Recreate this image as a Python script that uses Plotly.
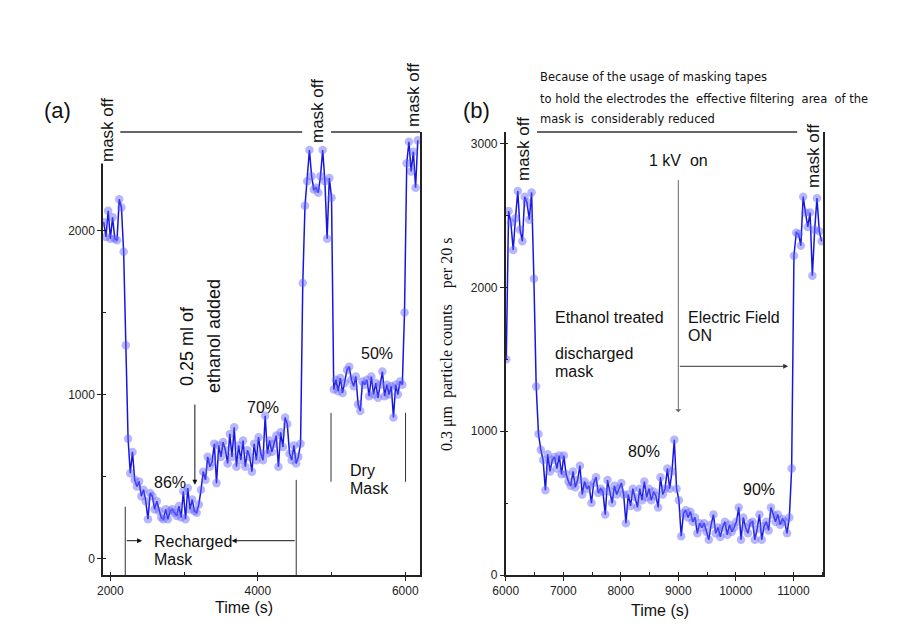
import plotly.graph_objects as go

W, H = 914, 624

# ---------------- data (panel a) ----------------
time_a_start, time_a_step = 1910, 30
counts_a = [
    # mask off (high)
    2050, 1960, 2120, 1950, 2080, 1950, 1940, 2190, 2140, 1870,
    # recharged mask / ethanol added
    1300, 730, 520, 650, 480, 440, 470, 380, 420, 350,
    240, 400, 380, 300, 350, 290, 250, 240, 300, 240,
    290, 300, 280, 260, 320, 250, 410, 240, 430, 300,
    360, 290, 280, 330, 420, 530, 480, 620, 560, 590,
    700, 460, 690, 620, 710, 660, 580, 760, 620, 800,
    560, 690, 600, 720, 560, 660, 620, 530, 700, 600,
    740, 640, 600, 870, 640, 720, 650, 700, 750, 560,
    770, 680, 860, 820, 640, 600, 690, 580, 620, 700,
    # mask off
    1680, 2150, 2300, 2490, 2330, 2250, 2260, 2230, 2330, 2490, 2300, 1950, 2320, 2200,
    # dry mask
    1030, 1090, 1020, 1100, 1010, 1070, 1150, 1170, 1090, 1050,
    1110, 940, 900, 1080, 1060, 1090, 990, 1110, 1000, 1070,
    980, 1060, 1140, 990, 1060, 1000, 1050, 860, 1060, 1000,
    1080, 1060,
    # mask off
    1500, 2410, 2540, 2360, 2480, 2260, 2550,
]

# ---------------- data (panel b) ----------------
time_b_start, time_b_step = 6010, 40
counts_b = [
    # mask off
    1500, 2530, 2450, 2260, 2480, 2670, 2400, 2320, 2630, 2590, 2470, 2660,
    2060, 1310,
    # ethanol treated, discharged mask / field on
    980, 870, 800, 590, 840, 720, 800, 820, 740, 830,
    700, 830, 700, 650, 620, 720, 610, 660, 760, 560,
    650, 600, 620, 500, 640, 680, 570, 600, 580, 420,
    660, 580, 500, 620, 560, 600, 640, 560, 360, 560,
    480, 600, 540, 470, 600, 520, 650, 540, 600, 520,
    580, 550, 470, 680, 560, 600, 740, 600, 720, 940,
    600, 520, 270, 430, 450, 400, 440, 370, 400, 290,
    360, 330, 360, 300, 245, 350, 420, 290, 330, 265,
    330, 370, 280, 350, 300, 330, 370, 470, 245, 400,
    330, 290, 360, 370, 245, 320, 420, 245, 340, 370,
    310, 470, 420, 370, 420, 350, 390, 370, 290, 400,
    740,
    # mask off
    2220, 2380, 2370, 2290, 2630, 2520, 2420, 2520, 2080, 2400, 2620, 2390, 2320,
]

assert len(counts_a) == 143, len(counts_a)
assert len(counts_b) == 138, len(counts_b)

time_a = [time_a_start + i * time_a_step for i in range(len(counts_a))]
time_b = [time_b_start + i * time_b_step for i in range(len(counts_b))]

x_range_a = [1900, 6200]
y_range_a = [-100, 2600]
x_range_b = [6000, 11520]
y_range_b = [0, 3080]

LINE_C = "#1616e0"
MARK_C = "rgba(95,95,255,0.45)"
SANS = "Liberation Sans, Arial, sans-serif"

fig = go.Figure()
for xs, ys, xa, ya in [(time_a, counts_a, "x", "y"), (time_b, counts_b, "x2", "y2")]:
    fig.add_trace(go.Scatter(
        x=xs, y=ys, xaxis=xa, yaxis=ya, mode="lines+markers",
        line=dict(color=LINE_C, width=1.5),
        marker=dict(color=MARK_C, size=8.5, line=dict(width=0)),
        showlegend=False, hoverinfo="skip",
    ))


def px(x):
    return x / W


def py(y):
    return 1 - y / H


def axis(domain, rng, anchor, dtick, minor_dtick, mirror=False):
    return dict(
        domain=domain, range=rng, anchor=anchor, mirror=mirror,
        showline=True, linecolor="#222", linewidth=1.5, showgrid=False, zeroline=False,
        tickmode="linear", tick0=0, dtick=dtick, tickformat="d",
        ticks="outside", ticklen=4, tickwidth=1.2, tickcolor="#222",
        minor=dict(tickmode="linear", tick0=0, dtick=minor_dtick, ticks="inside",
                   ticklen=3, tickwidth=1, tickcolor="#222", showgrid=False),
        tickfont=dict(family=SANS, size=12, color="#222"),
    )


fig.update_layout(
    width=W, height=H, margin=dict(l=0, r=0, t=0, b=0, autoexpand=False),
    paper_bgcolor="white", plot_bgcolor="white",
    xaxis=axis([px(103), px(420)], x_range_a, "y", 2000, 1000),
    yaxis=axis([py(575), py(132)], y_range_a, "x", 1000, 500, mirror=True),
    xaxis2=axis([px(505.7), px(823.3)], x_range_b, "y2", 1000, 500),
    yaxis2=axis([py(575), py(132)], y_range_b, "x2", 1000, 500, mirror=True),
)

ann = []


def text(t, x, y, size=16, angle=0, xanchor="center", yanchor="middle", font=SANS,
         color="#111", bg=None):
    d = dict(text=t, x=px(x), y=py(y), xref="paper", yref="paper", showarrow=False,
             textangle=angle, xanchor=xanchor, yanchor=yanchor,
             font=dict(family=font, size=size, color=color))
    if bg:
        d["bgcolor"] = bg
    ann.append(d)


def arrow(xr, yr, x0, y0, x1, y1, color="#111", head=2):
    ann.append(dict(text="", showarrow=True, xref=xr, yref=yr, axref=xr, ayref=yr,
                    x=x1, y=y1, ax=x0, ay=y0, arrowhead=head, arrowsize=1,
                    arrowwidth=1, arrowcolor=color, standoff=0, startstandoff=0))


NB = "\u00a0"
# panel a texts
text("(a)", 57, 110, size=22)
text("mask off", 107, 130, size=17, angle=-90, bg="white")
text("mask off", 317, 111, size=17, angle=-90)
text("mask off", 413, 95, size=17, angle=-90)
text("0.25 ml of", 187, 388, size=18, angle=-90, yanchor="bottom")
text("ethanol added", 214, 395, size=18, angle=-90, yanchor="bottom")
text("86%", 170, 482)
text("70%", 263, 407)
text("50%", 377, 353)
text("Recharged", 152, 541, xanchor="left")
text("Mask", 152, 559, xanchor="left")
text("Dry", 348, 470, xanchor="left")
text("Mask", 348, 488, xanchor="left")
text("Time (s)", 244, 607)

# panel b texts
text("(b)", 476, 110, size=22)
text("mask off", 523, 149, size=17, angle=-90)
text("mask off", 813, 156, size=17, angle=-90)
NOTE_F = "DejaVu Sans, sans-serif"
text("Because of the usage of masking tapes", 538, 77, size=11.5, xanchor="left", font=NOTE_F)
text("to hold the electrodes the" + NB + " effective filtering" + NB + " area" + NB + " of the",
     538, 99, size=11.5, xanchor="left", font=NOTE_F)
text("mask is" + NB + " considerably reduced", 538, 119, size=11.5, xanchor="left", font=NOTE_F)
text("1 kV" + NB + " on", 678, 160)
text("Ethanol treated", 553, 317, xanchor="left")
text("discharged", 553, 353, xanchor="left")
text("mask", 553, 371, xanchor="left")
text("Electric Field", 686, 317, xanchor="left")
text("ON", 686, 335, xanchor="left")
text("80%", 644, 451)
text("90%", 759, 489)
text("Time (s)", 660, 610)
text("0.3 \u03bcm" + NB * 2 + "particle counts" + NB * 4 + "per 20 s", 447, 345, size=16,
     angle=-90, font="Liberation Serif, Times New Roman, serif")

# arrows
arrow("x", "y", 3146, 948, 3146, 450)
arrow("x", "y", 2202, 109, 2431, 109)
arrow("x", "y", 4521, 109, 3645, 109)
arrow("x2", "y2", 9000, 2757, 9000, 1132, color="#666", head=1)
arrow("x2", "y2", 9000, 1451, 10910, 1451, color="#333")

fig.update_layout(annotations=ann)

LC = "#333"
shapes = [
    dict(type="line", xref="x", yref="y domain", x0=2135, x1=4602, y0=1, y1=1, line=dict(color=LC, width=1.5)),
    dict(type="line", xref="x", yref="y domain", x0=4993, x1=6200, y0=1, y1=1, line=dict(color=LC, width=1.5)),
    dict(type="line", xref="x2", yref="y2 domain", x0=6544, x1=11066, y0=1, y1=1, line=dict(color=LC, width=1.5)),
    dict(type="line", xref="x", yref="y", x0=2202, x1=2202, y0=-100, y1=316, line=dict(color=LC, width=1)),
    dict(type="line", xref="x", yref="y", x0=4521, x1=4521, y0=-100, y1=480, line=dict(color=LC, width=1)),
    dict(type="line", xref="x", yref="y", x0=4993, x1=4993, y0=468, y1=888, line=dict(color=LC, width=1)),
    dict(type="line", xref="x", yref="y", x0=6004, x1=6004, y0=468, y1=888, line=dict(color=LC, width=1)),
]
fig.update_layout(shapes=shapes)

fig.write_html("out.html")
